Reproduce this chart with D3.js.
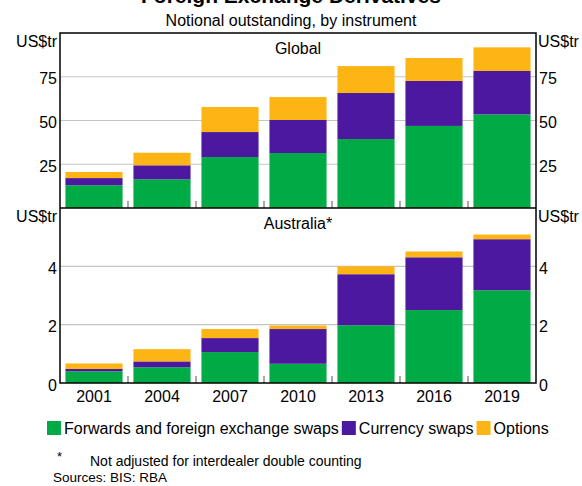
<!DOCTYPE html>
<html>
<head>
<meta charset="utf-8">
<script src="https://cdn.jsdelivr.net/npm/d3@7"></script>
<style>
  body { margin: 0; background: #fff; }
  svg { font-family: Arial, "Liberation Sans", sans-serif; }
</style>
</head>
<body>
<div id="main"></div>
<script>
const years = ['2001', '2004', '2007', '2010', '2013', '2016', '2019'];
const seriesNames = ['Forwards and foreign exchange swaps', 'Currency swaps', 'Options'];
const colors = ['#00ab46', '#4b189f', '#fdb515'];

// US$ trillion
const globalFwd = [13.0, 16.4, 29.1, 31.4, 39.4, 46.9, 53.5];
const globalCur = [4.1, 8.0, 14.3, 18.9, 26.3, 25.7, 24.8];
const globalOpt = [3.5, 7.2, 14.3, 13.1, 15.4, 13.1, 13.5];

const ausFwd = [0.40, 0.54, 1.06, 0.66, 1.98, 2.50, 3.18];
const ausCur = [0.08, 0.20, 0.48, 1.19, 1.75, 1.81, 1.75];
const ausOpt = [0.19, 0.42, 0.31, 0.12, 0.27, 0.20, 0.16];

const globalTicks = [25, 50, 75];
const ausTicks = [0, 2, 4];

const
  width = 582,
  height = 486,
  left = 60,
  right = 536;

const svg = d3.select('div#main').append('svg').attr('width', width).attr('height', height);

const x = d3.scaleBand().domain(years).range([left, right]).paddingInner(0.16).paddingOuter(0.08);

const panels = [
  { title: 'Global', vals: [globalFwd, globalCur, globalOpt], y: d3.scaleLinear().domain([0, 100]).range([208, 33]), ticks: globalTicks },
  { title: 'Australia*', vals: [ausFwd, ausCur, ausOpt], y: d3.scaleLinear().domain([0, 6]).range([383, 208]), ticks: ausTicks }
];

panels.forEach(p => {
  const rows = years.map((yr, i) => ({ year: yr, a: p.vals[0][i], b: p.vals[1][i], c: p.vals[2][i] }));
  const stacked = d3.stack().keys(['a', 'b', 'c'])(rows);
  const y = p.y;
  const g = svg.append('g');

  // gridlines
  g.selectAll('line.grid').data(p.ticks.filter(t => t > 0)).join('line')
    .attr('x1', left).attr('x2', right)
    .attr('y1', d => y(d)).attr('y2', d => y(d))
    .attr('stroke', '#c4c4c4').attr('stroke-width', 1.2);

  // bars
  stacked.forEach((s, k) => {
    g.selectAll(null).data(s).join('rect')
      .attr('x', d => x(d.data.year))
      .attr('width', x.bandwidth())
      .attr('y', d => y(d[1]))
      .attr('height', d => y(d[0]) - y(d[1]))
      .attr('fill', colors[k]);
  });

  // small ticks between bars
  const bounds = years.slice(1).map(yr => x(yr) - x.step() * x.paddingInner() / 2);
  g.selectAll(null).data(bounds).join('line')
    .attr('x1', d => d).attr('x2', d => d)
    .attr('y1', y(0)).attr('y2', y(0) - 7)
    .attr('stroke', '#555').attr('stroke-width', 1);

  // tick labels both sides
  g.selectAll(null).data(p.ticks).join('text')
    .attr('x', left - 3).attr('y', d => y(d) + 7.5)
    .attr('text-anchor', 'end').attr('font-size', 16).text(d => d);
  g.selectAll(null).data(p.ticks).join('text')
    .attr('x', right + 3).attr('y', d => y(d) + 7.5)
    .attr('font-size', 16).text(d => d);

  const top = y.range()[1];
  g.append('text').attr('x', left - 3).attr('y', top + 14).attr('text-anchor', 'end')
    .attr('font-size', 16).text('US$tr');
  g.append('text').attr('x', right + 2).attr('y', top + 14)
    .attr('font-size', 16).text('US$tr');

  g.append('text').attr('x', (left + right) / 2).attr('y', top + 21)
    .attr('text-anchor', 'middle').attr('font-size', 16).text(p.title);
});

// frame
svg.append('rect').attr('x', left).attr('y', 33).attr('width', right - left).attr('height', 383 - 33)
  .attr('fill', 'none').attr('stroke', '#000').attr('stroke-width', 1.5);
svg.append('line').attr('x1', left).attr('x2', right).attr('y1', 208).attr('y2', 208)
  .attr('stroke', '#000').attr('stroke-width', 1.5);

// x labels
svg.selectAll(null).data(years).join('text')
  .attr('x', d => x(d) + x.bandwidth() / 2).attr('y', 402)
  .attr('text-anchor', 'middle').attr('font-size', 16).text(d => d);

// titles (main title sits partly above the frame, as in the source)
svg.append('text').attr('x', 291).attr('y', 3).attr('text-anchor', 'middle')
  .attr('font-size', 21).attr('font-weight', 'bold').text('Foreign Exchange Derivatives');
svg.append('text').attr('x', 291).attr('y', 26).attr('text-anchor', 'middle')
  .attr('font-size', 16).text('Notional outstanding, by instrument');

// legend
let lx = 47;
seriesNames.forEach((name, i) => {
  svg.append('rect').attr('x', lx).attr('y', 421).attr('width', 14).attr('height', 14).attr('fill', colors[i]);
  const t = svg.append('text').attr('x', lx + 17).attr('y', 434).attr('font-size', 16).text(name);
  lx += 17 + t.node().getComputedTextLength() + 3;
});

// notes
svg.append('text').attr('x', 57).attr('y', 461).attr('font-size', 13).text('*');
svg.append('text').attr('x', 90).attr('y', 466).attr('font-size', 14).text('Not adjusted for interdealer double counting');
svg.append('text').attr('x', 53).attr('y', 482).attr('font-size', 13.5).text('Sources: BIS: RBA');
</script>
</body>
</html>
